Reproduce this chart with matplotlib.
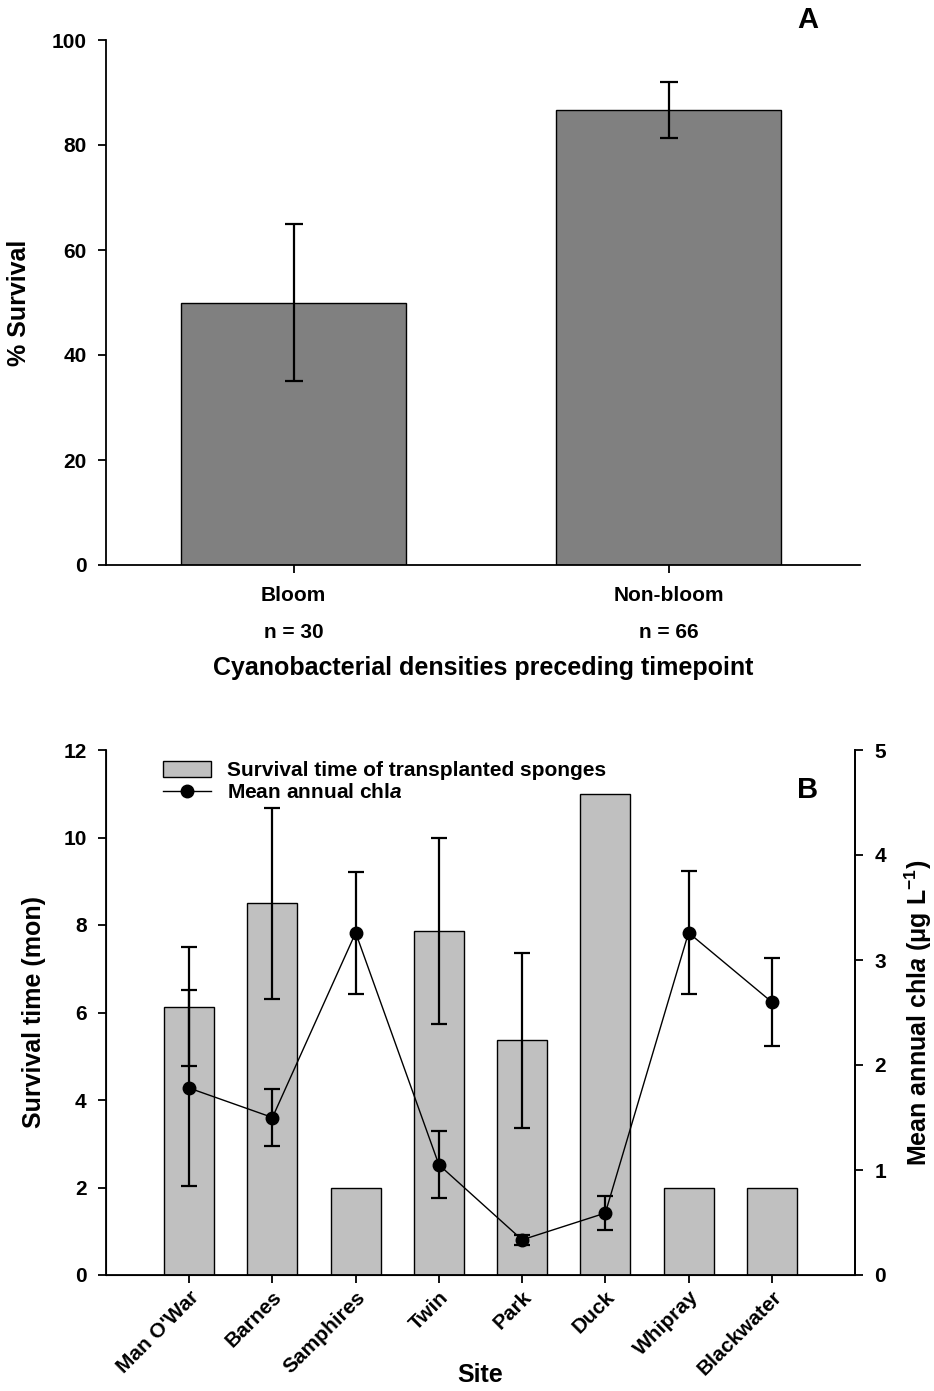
import matplotlib
matplotlib.use("Agg")
import matplotlib.pyplot as plt
from matplotlib.lines import Line2D
from matplotlib.patches import Patch
import numpy as np

plt.rcParams['font.family'] = ['Liberation Sans', 'DejaVu Sans']
plt.rcParams['font.weight'] = 'bold'
plt.rcParams['mathtext.fontset'] = 'custom'
plt.rcParams['mathtext.rm'] = 'Liberation Sans:bold'
plt.rcParams['mathtext.it'] = 'Liberation Sans:bold:italic'
plt.rcParams['mathtext.bf'] = 'Liberation Sans:bold'

# Panel A: survival after bloom / non-bloom periods
groups = ["Bloom", "Non-bloom"]
group_n = ["n = 30", "n = 66"]
survival_pct = [50.0, 86.7]
survival_err = [15.0, 5.3]

# Panel B: per-site survival time and chlorophyll a
sites = ["Man O'War", "Barnes", "Samphires", "Twin", "Park", "Duck", "Whipray", "Blackwater"]
survival_mon = [6.13, 8.5, 2.0, 7.86, 5.37, 11.0, 2.0, 2.0]
survival_mon_err = [1.36, 2.18, 0.0, 2.13, 2.0, 0.0, 0.0, 0.0]
chla = [1.78, 1.50, 3.26, 1.05, 0.335, 0.59, 3.26, 2.60]
chla_err = [0.93, 0.27, 0.58, 0.32, 0.05, 0.165, 0.585, 0.415]

W, H = 934, 1391
fig = plt.figure(figsize=(W / 100, H / 100), dpi=100)

TICK_FS = 15
LABEL_FS = 18

def box(l, t, r, b):
    return [l / W, 1 - b / H, (r - l) / W, (b - t) / H]

# ---------------- Panel A ----------------
axA = fig.add_axes(box(106, 40, 860, 565))
xA = np.arange(len(groups))
axA.bar(xA, survival_pct, width=0.6, color="#808080", edgecolor="black", linewidth=1.0, zorder=2)
axA.errorbar(xA, survival_pct, yerr=survival_err, fmt="none", ecolor="black",
             elinewidth=1.6, capsize=6.5, capthick=1.6, zorder=3)
axA.set_xlim(-0.5, 1.51)
axA.set_ylim(0, 100)
axA.set_yticks(np.arange(0, 101, 20))
axA.set_xticks(xA)
axA.set_xticklabels(groups, fontsize=TICK_FS, fontweight="bold")
for x, n in zip(xA, group_n):
    axA.text(x, (565 - 633) / 525, n, transform=axA.get_xaxis_transform(), ha="center",
             va="center", fontsize=TICK_FS, fontweight="bold")
axA.spines["top"].set_visible(False)
axA.spines["right"].set_visible(False)
for s in ("left", "bottom"):
    axA.spines[s].set_linewidth(1.3)
axA.tick_params(axis="both", direction="out", length=6, width=1.3, labelsize=TICK_FS)
axA.tick_params(axis="x", pad=9)
axA.tick_params(axis="y", pad=8)
axA.set_ylabel("% Survival", fontsize=LABEL_FS, fontweight="bold", va="center")
axA.yaxis.set_label_coords((19 - 106) / 754, 0.5)
axA.set_xlabel("Cyanobacterial densities preceding timepoint", fontsize=LABEL_FS,
               fontweight="bold", va="center")
axA.xaxis.set_label_coords(0.5, (565 - 668) / 525)
fig.text(808 / W, 1 - 20 / H, "A", fontsize=21, fontweight="bold", ha="center", va="center")

# ---------------- Panel B ----------------
axB = fig.add_axes(box(106, 750, 855, 1275))
xB = np.arange(len(sites))
axB.bar(xB, survival_mon, width=0.6, color="#c0c0c0", edgecolor="black", linewidth=1.0, zorder=2)
err_idx = [i for i, e in enumerate(survival_mon_err) if e > 0]
axB.errorbar(xB[err_idx], np.array(survival_mon)[err_idx],
             yerr=np.array(survival_mon_err)[err_idx], fmt="none", ecolor="black",
             elinewidth=1.6, capsize=6, capthick=1.6, zorder=3)
axB.set_xlim(-1, 8)
axB.set_ylim(0, 12)
axB.set_yticks(np.arange(0, 13, 2))
axB.set_xticks(xB)
axB.set_xticklabels(sites, rotation=45, ha="right", rotation_mode="anchor",
                    fontsize=TICK_FS, fontweight="bold")
axB.spines["top"].set_visible(False)
for s in ("left", "bottom", "right"):
    axB.spines[s].set_linewidth(1.3)
axB.tick_params(axis="both", direction="out", length=6, width=1.3, labelsize=TICK_FS)
axB.tick_params(axis="x", pad=3)
axB.tick_params(axis="y", pad=8)
axB.set_ylabel("Survival time (mon)", fontsize=LABEL_FS, fontweight="bold", va="center")
axB.yaxis.set_label_coords((34 - 106) / 749, 0.5)
axB.set_xlabel("Site", fontsize=LABEL_FS, fontweight="bold", va="center")
axB.xaxis.set_label_coords(0.5, (1275 - 1375) / 525)

axC = axB.twinx()
axC.errorbar(xB, chla, yerr=chla_err, fmt="-o", color="black", ecolor="black",
             linewidth=1.0, elinewidth=1.6, capsize=6, capthick=1.6,
             markersize=9, zorder=4)
axC.set_ylim(0, 5)
axC.set_yticks(np.arange(0, 6, 1))
axC.spines["top"].set_visible(False)
axC.spines["right"].set_linewidth(1.3)
axC.tick_params(axis="y", direction="out", length=6, width=1.3, labelsize=TICK_FS, pad=8)
axC.set_ylabel("Mean annual chl$a$ (μg L$^{-1}$)", fontsize=LABEL_FS, fontweight="bold",
               va="center")
axC.yaxis.set_label_coords((918 - 106) / 749, 0.5)

handles = [Patch(facecolor="#c0c0c0", edgecolor="black", linewidth=1.0),
           Line2D([0], [0], color="black", linewidth=1.0, marker="o", markersize=9)]
labels = ["Survival time of transplanted sponges", "Mean annual chl$a$"]
axB.legend(handles, labels, loc="upper left", bbox_to_anchor=(0.065, 0.995), frameon=False,
           handlelength=2.3, handleheight=0.8, handletextpad=0.75,
           labelspacing=0.15, borderaxespad=0.0,
           prop={"weight": "bold", "size": TICK_FS})
fig.text(808 / W, 1 - 790 / H, "B", fontsize=21, fontweight="bold", ha="center", va="center")

fig.savefig("out.png", dpi=100)
